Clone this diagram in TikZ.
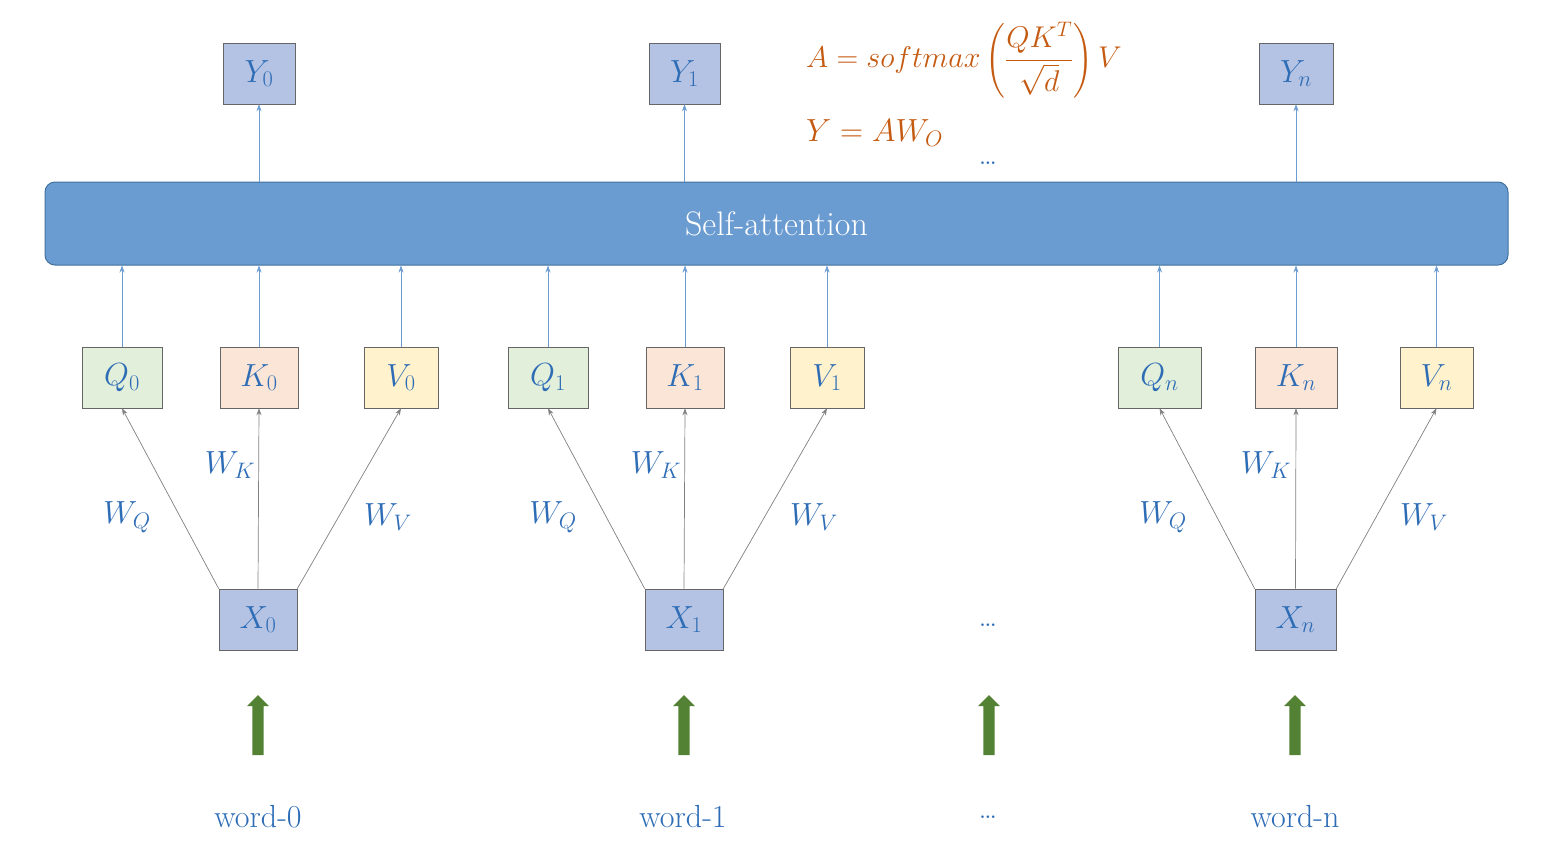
\RequirePackage{fix-cm}
\documentclass[tikz,border=0pt]{standalone}
\usepackage{amsmath}
\usetikzlibrary{arrows.meta,shapes.arrows}
\definecolor{tb}{HTML}{2E6DB6}
\definecolor{bx}{HTML}{B4C3E3}
\definecolor{qg}{HTML}{E2EFDA}
\definecolor{kp}{HTML}{FBE5D6}
\definecolor{vy}{HTML}{FFF2CC}
\definecolor{bar}{HTML}{6A9BD1}
\definecolor{barb}{HTML}{41719C}
\definecolor{gr}{HTML}{548235}
\definecolor{og}{HTML}{C55A11}
\begin{document}
\begin{tikzpicture}[x=1pt,y=-1pt,
  box/.style={draw=gray!80!black,line width=0.6pt,minimum height=61pt,text=tb,font=\fontsize{32}{38}\selectfont,inner sep=0pt},
  up/.style={draw=bar,line width=0.7pt,-{Stealth[length=7pt,width=5pt]}},
  gw/.style={draw=gray,line width=0.7pt,-{Stealth[length=7pt,width=5pt]}},
  lab/.style={text=tb,font=\fontsize{32}{38}\selectfont},
  big/.style={draw=none,fill=gr,single arrow,shape border rotate=90,minimum height=60pt,minimum width=22pt,single arrow head extend=5pt,single arrow head indent=0pt,inner sep=5pt},
  word/.style={text=tb,font=\fontsize{32}{38}\selectfont}]
\useasboundingbox (0,0) rectangle (1544,844);
% bar
\node[draw=barb,fill=bar,rounded corners=10pt,line width=1pt,minimum width=1463pt,minimum height=83pt,text=white,font=\fontsize{34}{40}\selectfont] (sa) at (776.5,223.5) {Self-attention};
% Y
\node[box,fill=bx,minimum width=72pt] (y0) at (259,73.5) {$Y_0$};
\node[box,fill=bx,minimum width=71pt] (y1) at (684.5,73.5) {$Y_1$};
\node[box,fill=bx,minimum width=74pt] (yn) at (1296,73.5) {$Y_n$};
\foreach \y in {y0,y1,yn} \draw[up] (sa.north -| \y) -- (\y.south);
% QKV
\foreach \n/\x/\w/\c/\t in {q0/122/80/qg/Q_0,k0/259/78/kp/K_0,v0/401/74/vy/V_0,
  q1/548/80/qg/Q_1,k1/685/78/kp/K_1,v1/827/74/vy/V_1,
  qn/1159.5/83/qg/Q_n,kn/1296/82/kp/K_n,vn/1436.5/73/vy/V_n}
  {\node[box,fill=\c,minimum width=\w pt] (\n) at (\x,377.5) {$\t$};
   \draw[up] (\n.north) -- (\n.north |- sa.south);}
% X
\node[box,fill=bx,minimum width=78pt] (x0) at (258,619.5) {$X_0$};
\node[box,fill=bx,minimum width=78pt] (x1) at (684,619.5) {$X_1$};
\node[box,fill=bx,minimum width=81pt] (xn) at (1295.5,619.5) {$X_n$};
\foreach \x/\s in {x0/0,x1/1,xn/n}{
  \draw[gw] (\x.north west) -- (q\s.south);
  \draw[gw] (\x.north) -- (k\s.south);
  \draw[gw] (\x.north east) -- (v\s.south);}
% W labels
\foreach \dx in {0,426,1036}{
  \node[lab] (wq\dx) at (127+\dx,517) {$W_Q$};
  \node[lab] (wk\dx) at (230+\dx,465) {$W_K$};
  \node[lab] (wv\dx) at (388+\dx,517) {$W_V$};}
% green arrows
\foreach \x [count=\i] in {258,684,989,1295}
  \node[big] (g\i) at (\x,728) {};
% words
\node[word] (w0) at (258,817) {word-0};
\node[word] (w1) at (683,817) {word-1};
\node[word] (w2) at (988,817) {\ldots};
\node[word] (w3) at (1295,817) {word-n};
\node[word] (d1) at (988,625) {\ldots};
\node[word] (d2) at (988,163) {\ldots};
% formula
\node[text=og,font=\fontsize{30}{36}\selectfont,anchor=west,inner sep=0pt] (f1) at (806,60) {$A=softmax\left(\dfrac{QK^T}{\sqrt{d}}\right)V$};
\node[text=og,font=\fontsize{32}{38}\selectfont,anchor=west,inner sep=0pt] (f2) at (806,133) {$Y=AW_O$};
\end{tikzpicture}
\end{document}
